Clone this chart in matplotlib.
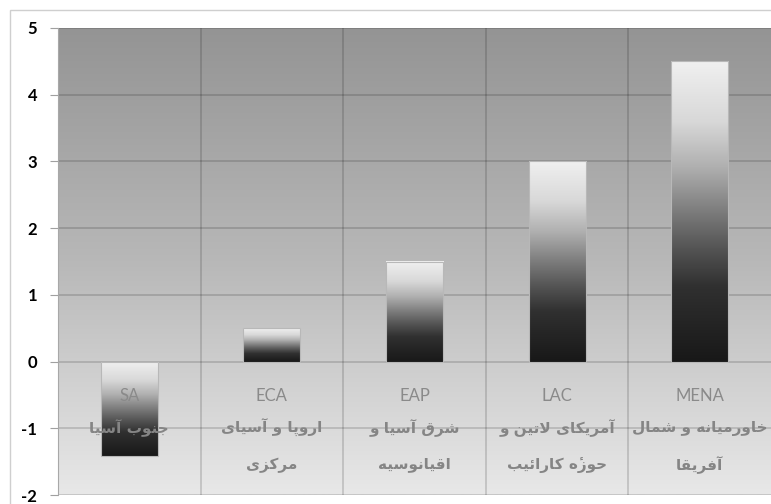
import numpy as np
import matplotlib
matplotlib.use("Agg")
import matplotlib.pyplot as plt
from matplotlib.colors import LinearSegmentedColormap
from matplotlib.patches import Rectangle

# =============================================
#                    DATOS
# =============================================

codes = ["SA", "ECA", "EAP", "LAC", "MENA"]
names = [
    "جنوب آسیا",
    "اروپا و آسیای\nمرکزی",
    "شرق آسیا و\nاقیانوسیه",
    "آمریکای لاتین و\nحوزۀ کارائیب",
    "خاورمیانه و شمال\nآفریقا",
]
values = [-1.42, 0.5, 1.5, 3.0, 4.5]
yticks = [-2, -1, 0, 1, 2, 3, 4, 5]

# =============================================
#        FORMAS DE PRESENTACIÓN (ÁRABE)
# =============================================
# isolated, final, initial, medial
forms = {
    "ا": (0xFE8D, 0xFE8E), "آ": (0xFE81, 0xFE82), "ر": (0xFEAD, 0xFEAE),
    "ز": (0xFEAF, 0xFEB0), "و": (0xFEED, 0xFEEE), "ۀ": (0xFEE9, 0xFEEA),
    "ب": (0xFE8F, 0xFE90, 0xFE91, 0xFE92), "پ": (0xFB56, 0xFB57, 0xFB58, 0xFB59),
    "ت": (0xFE95, 0xFE96, 0xFE97, 0xFE98), "ج": (0xFE9D, 0xFE9E, 0xFE9F, 0xFEA0),
    "ح": (0xFEA1, 0xFEA2, 0xFEA3, 0xFEA4), "خ": (0xFEA5, 0xFEA6, 0xFEA7, 0xFEA8),
    "س": (0xFEB1, 0xFEB2, 0xFEB3, 0xFEB4), "ش": (0xFEB5, 0xFEB6, 0xFEB7, 0xFEB8),
    "ف": (0xFED1, 0xFED2, 0xFED3, 0xFED4), "ق": (0xFED5, 0xFED6, 0xFED7, 0xFED8),
    "ک": (0xFB8E, 0xFB8F, 0xFB90, 0xFB91), "ل": (0xFEDD, 0xFEDE, 0xFEDF, 0xFEE0),
    "م": (0xFEE1, 0xFEE2, 0xFEE3, 0xFEE4), "ن": (0xFEE5, 0xFEE6, 0xFEE7, 0xFEE8),
    "ه": (0xFEE9, 0xFEEA, 0xFEEB, 0xFEEC), "ی": (0xFBFC, 0xFBFD, 0xFBFE, 0xFBFF),
    "ئ": (0xFE89, 0xFE8A, 0xFE8B, 0xFE8C),
}
lamalef = {"ا": (0xFEFB, 0xFEFC), "آ": (0xFEF5, 0xFEF6)}
hamza_above = "\u0654"


def dual(c):
    return c in forms and len(forms[c]) == 4


def shape_line(s):
    out = []
    i = 0
    while i < len(s):
        c = s[i]
        prev = s[i - 1] if i > 0 else " "
        joins_prev = dual(prev) and c in forms
        if c == "ل" and i + 1 < len(s) and s[i + 1] in lamalef:
            out.append(chr(lamalef[s[i + 1]][1 if joins_prev else 0]))
            i += 2
            continue
        if c not in forms:
            out.append(c)
            i += 1
            continue
        nxt = s[i + 1] if i + 1 < len(s) else " "
        joins_next = dual(c) and nxt in forms
        if joins_prev and joins_next:
            k = 3
        elif joins_prev:
            k = 1
        elif joins_next:
            k = 2
        else:
            k = 0
        g = chr(forms[c][k])
        if c == "ۀ":
            g += hamza_above
        out.append(g)
        i += 1
    return "".join(reversed(out))


# =============================================
#                   GRÁFICO
# =============================================

fig = plt.figure(figsize=(7.71, 5.04), dpi=100)
fig.patches.append(Rectangle((10 / 771, -0.01), 1.0, 1 - 10 / 504 + 0.01,
                             transform=fig.transFigure, fill=False,
                             edgecolor="#cfcfcf", linewidth=1.0))
ax = fig.add_axes([58 / 771, 1 - 495 / 504, 1 - 58 / 771, (495 - 28) / 504])

x = np.arange(len(codes))
ax.set_xlim(-0.5, len(codes) - 0.5)
ax.set_ylim(-2, 5)

# fondo degradado
bg = LinearSegmentedColormap.from_list("bg", ["#949494", "#b8b8b8", "#e8e8e8"])
grad = np.linspace(0, 1, 256).reshape(-1, 1)
ax.imshow(grad, cmap=bg, aspect="auto", extent=[-0.5, len(codes) - 0.5, -2, 5],
          origin="upper", zorder=0)

# rejilla
for v in yticks:
    ax.axhline(v, color="black", alpha=0.17, linewidth=1.2, zorder=1)
for b in np.arange(0.5, len(codes) - 0.5, 1):
    ax.axvline(b, color="black", alpha=0.17, linewidth=1.2, zorder=1)

# barras con degradado
barcmap = LinearSegmentedColormap.from_list(
    "bar", [(0, "#f0f0f0"), (0.2, "#d8d8d8"), (0.35, "#b0b0b0"),
            (0.5, "#7c7c7c"), (0.62, "#555555"), (0.75, "#303030"),
            (1, "#181818")])
bars = ax.bar(x, values, width=0.4, facecolor="none", edgecolor="#b8b8b8",
              linewidth=0.8, zorder=3)
for p in bars:
    bb = p.get_bbox()
    y_lo, y_hi = min(bb.y0, bb.y1), max(bb.y0, bb.y1)
    im = ax.imshow(grad, cmap=barcmap, aspect="auto",
                   extent=[bb.x0, bb.x1, y_lo, y_hi], origin="upper", zorder=2)
    im.set_clip_path(p)
ax.set_xlim(-0.5, len(codes) - 0.5)
ax.set_ylim(-2, 5)

# etiquetas dentro del gráfico
for i in range(len(codes)):
    ax.text(x[i], -0.52, codes[i], ha="center", va="center", fontsize=12,
            color="#8a8a8a", family=["Lato", "DejaVu Sans"], zorder=4)
    lines = names[i].split("\n")
    for j, line in enumerate(lines):
        ax.text(x[i], -1.0 - 0.55 * j, shape_line(line), ha="center",
                va="center", fontsize=11, fontweight="bold", color="#858585",
                family=["DejaVu Sans"], zorder=4)

# ejes
ax.set_xticks([])
ax.set_yticks(yticks)
ax.set_yticklabels([str(v) for v in yticks], fontsize=12, fontweight="bold",
                   family="Lato")
ax.tick_params(axis="y", length=6, color="#a0a0a0", pad=9)
for s in ["top", "right", "bottom"]:
    ax.spines[s].set_visible(False)
ax.spines["left"].set_color("#a8a8a8")

fig.savefig("out.png", dpi=100)
